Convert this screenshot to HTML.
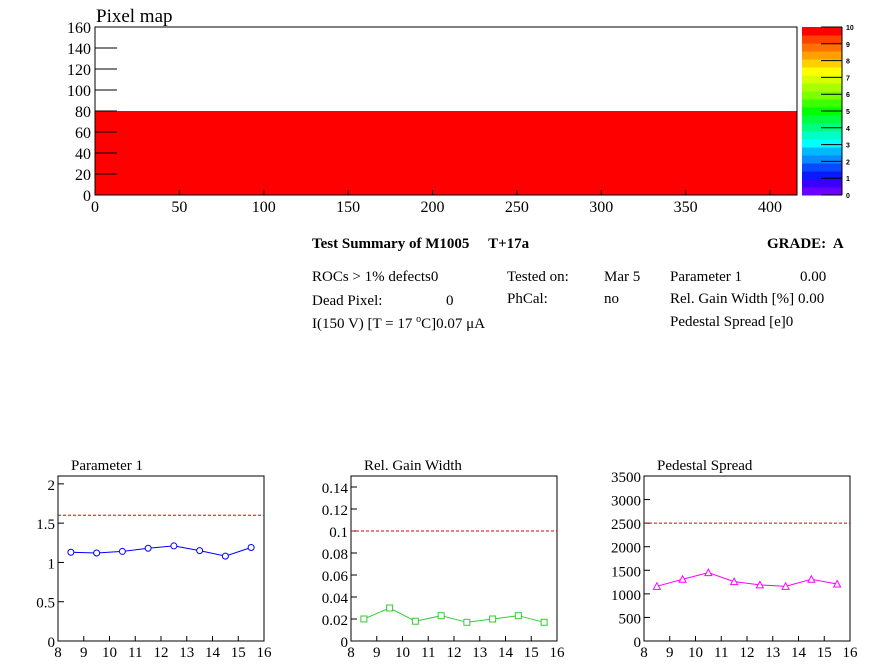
<!DOCTYPE html>
<html><head><meta charset="utf-8">
<style>
body{margin:0;background:#fff;width:896px;height:672px;overflow:hidden}
svg{display:block;font-family:"Liberation Serif",serif}
</style></head>
<body>
<svg id="svg" width="896" height="672" viewBox="0 0 896 672" xmlns="http://www.w3.org/2000/svg">
<g id="pm"></g>
<g id="pal"></g>
<g font-size="15" fill="#000">
<text x="312" y="248" font-weight="bold">Test Summary of M1005 &#160;&#160;&#160;&#160;T+17a</text>
<text x="767" y="248" font-weight="bold">GRADE:&#160; A</text>
<text x="312" y="281">ROCs &gt; 1% defects0</text>
<text x="312" y="305">Dead Pixel:</text>
<text x="446" y="305">0</text>
<text x="312" y="328">I(150 V) [T = 17 <tspan dy="-6" font-size="10">o</tspan><tspan dy="6">C]0.07 μA</tspan></text>
<text x="507" y="281">Tested on:</text>
<text x="604" y="281">Mar 5</text>
<text x="507" y="303">PhCal:</text>
<text x="604" y="303">no</text>
<text x="670" y="281">Parameter 1</text>
<text x="800" y="281">0.00</text>
<text x="670" y="303">Rel. Gain Width [%]</text>
<text x="798" y="303">0.00</text>
<text x="670" y="326">Pedestal Spread [e]0</text>
</g>
<g id="p1"></g>
<g id="p2"></g>
<g id="p3"></g>
</svg>
<script>
const NS="http://www.w3.org/2000/svg";
// pixel map data
const pmXTicks=[0,50,100,150,200,250,300,350,400];
const pmYTicks=[0,20,40,60,80,100,120,140,160];
const pmFilledRows=[0,80];
const paletteTicks=[0,1,2,3,4,5,6,7,8,9,10];
const paletteColors=["#6a00ff","#3a00ff","#0a1aff","#0a4aff","#0a8aff","#00b8ff","#00ffff","#00ffc8","#00ff80","#00ff40","#00ff00","#3cff00","#7cff00","#a8ff00","#d8ff00","#ffff00","#ffd000","#ffa000","#ff7000","#ff4000","#ff0000"];
// small plots data
const xCats=[8.5,9.5,10.5,11.5,12.5,13.5,14.5,15.5];
const xTickLabels=[8,9,10,11,12,13,14,15,16];
const par1Values=[1.13,1.12,1.14,1.18,1.21,1.15,1.08,1.19];
const par1Ticks=[0,0.5,1,1.5,2];
const par1Limit=[1.6];
const gainValues=[0.020,0.030,0.018,0.023,0.017,0.020,0.023,0.017];
const gainTicks=[0,0.02,0.04,0.06,0.08,0.1,0.12,0.14];
const gainLimit=[0.1];
const pedValues=[1160,1310,1450,1260,1190,1160,1310,1210];
const pedTicks=[0,500,1000,1500,2000,2500,3000,3500];
const pedLimit=[2500];

function mk(parent,tag,attrs,txt){const e=document.createElementNS(NS,tag);for(const k in attrs)e.setAttribute(k,attrs[k]);if(txt!==undefined)e.textContent=txt;parent.appendChild(e);return e;}

// Pixel map
(function(){
const g=document.getElementById('pm');
const x0=95,x1=797,y0=195,y1=27,xmax=416,ymax=160;
const sx=v=>x0+(v/xmax)*(x1-x0), sy=v=>y0-(v/ymax)*(y0-y1);
const r=mk(g,'rect',{x:sx(0),y:sy(pmFilledRows[1]),width:sx(xmax)-sx(0),height:sy(pmFilledRows[0])-sy(pmFilledRows[1]),fill:'#ff0000'});


const f=mk(g,'rect',{x:x0,y:y1,width:x1-x0,height:y0-y1,fill:'none',stroke:'#000','stroke-width':1});


const t=mk(g,'text',{x:96,y:22,'font-size':19},'Pixel map');


pmYTicks.forEach(v=>{
 mk(g,'line',{x1:x0,x2:x0+22,y1:sy(v),y2:sy(v),stroke:'#000','stroke-width':1});
 const l=mk(g,'text',{x:x0-4,y:sy(v)+6,'font-size':16,'text-anchor':'end'},v);
 
 
});
pmXTicks.forEach(v=>{
 mk(g,'line',{x1:sx(v),x2:sx(v),y1:y0,y2:y0-5,stroke:'#000','stroke-width':1});
 const l=mk(g,'text',{x:sx(v),y:y0+17,'font-size':16,'text-anchor':'middle'},v);
 
 
});
})();

// Palette
(function(){
const g=document.getElementById('pal');
const px0=802,px1=842,py0=195,py1=27,n=paletteColors.length;
const h=(py0-py1)/n;
paletteColors.forEach((c,i)=>{
 const r=mk(g,'rect',{x:px0,y:py0-(i+1)*h,width:px1-px0,height:h+0.5,fill:c});
 
 
});
mk(g,'line',{x1:px1,x2:px1,y1:py1,y2:py0,stroke:'#000'});
paletteTicks.forEach(v=>{
 const y=py0-(v/10)*(py0-py1);
 mk(g,'line',{x1:px1-21,x2:px1,y1:y,y2:y,stroke:'#000'});
 const l=mk(g,'text',{x:px1+4,y:y+3,'font-size':7,'font-weight':'bold','font-family':'Liberation Sans, sans-serif'},v);
 
 
});
})();

function plot(id,title,titleX,x0,x1,ymax,ticks,fmt,vals,limit,color,marker,name){
 const g=document.getElementById(id);
 const y0=641,y1=476;
 const sx=v=>x0+(v-8)/8*(x1-x0), sy=v=>y0-v/ymax*(y0-y1);
 const t=mk(g,'text',{x:titleX,y:470,'font-size':15},title);
 
 
 mk(g,'rect',{x:x0,y:y1,width:x1-x0,height:y0-y1,fill:'none',stroke:'#000'});
 ticks.forEach(v=>{
  mk(g,'line',{x1:x0,x2:x0+6,y1:sy(v),y2:sy(v),stroke:'#000'});
  const l=mk(g,'text',{x:x0-3,y:sy(v)+6,'font-size':15,'text-anchor':'end'},fmt(v));
  
  
 });
 xTickLabels.forEach(v=>{
  mk(g,'line',{x1:sx(v),x2:sx(v),y1:y0,y2:y0-5,stroke:'#000'});
  const l=mk(g,'text',{x:sx(v),y:y0+16,'font-size':15,'text-anchor':'middle'},v);
  
  
 });
 const d=mk(g,'line',{x1:x0,x2:x1,y1:sy(limit[0]),y2:sy(limit[0]),stroke:'#d00','stroke-width':1,'stroke-dasharray':'3,2'});
 
 
 const pts=vals.map((v,i)=>sx(xCats[i])+','+sy(v)).join(' ');
 const pl=mk(g,'polyline',{points:pts,fill:'none',stroke:color,'stroke-width':1});
 
 
 vals.forEach((v,i)=>{
  const cx=sx(xCats[i]),cy=sy(v);
  let m;
  if(marker==='circle') m=mk(g,'circle',{cx:cx,cy:cy,r:3,fill:'#fff',stroke:color});
  else if(marker==='square') m=mk(g,'rect',{x:cx-3,y:cy-3,width:6,height:6,fill:'#fff',stroke:color});
  else m=mk(g,'polygon',{points:`${cx},${cy-3.5} ${cx-3.5},${cy+3} ${cx+3.5},${cy+3}`,fill:'#fff',stroke:color});
  
  
 });
}
plot('p1','Parameter 1',71,58,264,2.1,par1Ticks,v=>String(v),par1Values,par1Limit,'#0000ff','circle','parameter1');
plot('p2','Rel. Gain Width',364,351,557,0.15,gainTicks,v=>String(+v.toFixed(2)),gainValues,gainLimit,'#33cc33','square','rel-gain-width');
plot('p3','Pedestal Spread',657,644,850,3500,pedTicks,v=>String(v),pedValues,pedLimit,'#ff00ff','triangle','pedestal-spread');
</script>
</body></html>
